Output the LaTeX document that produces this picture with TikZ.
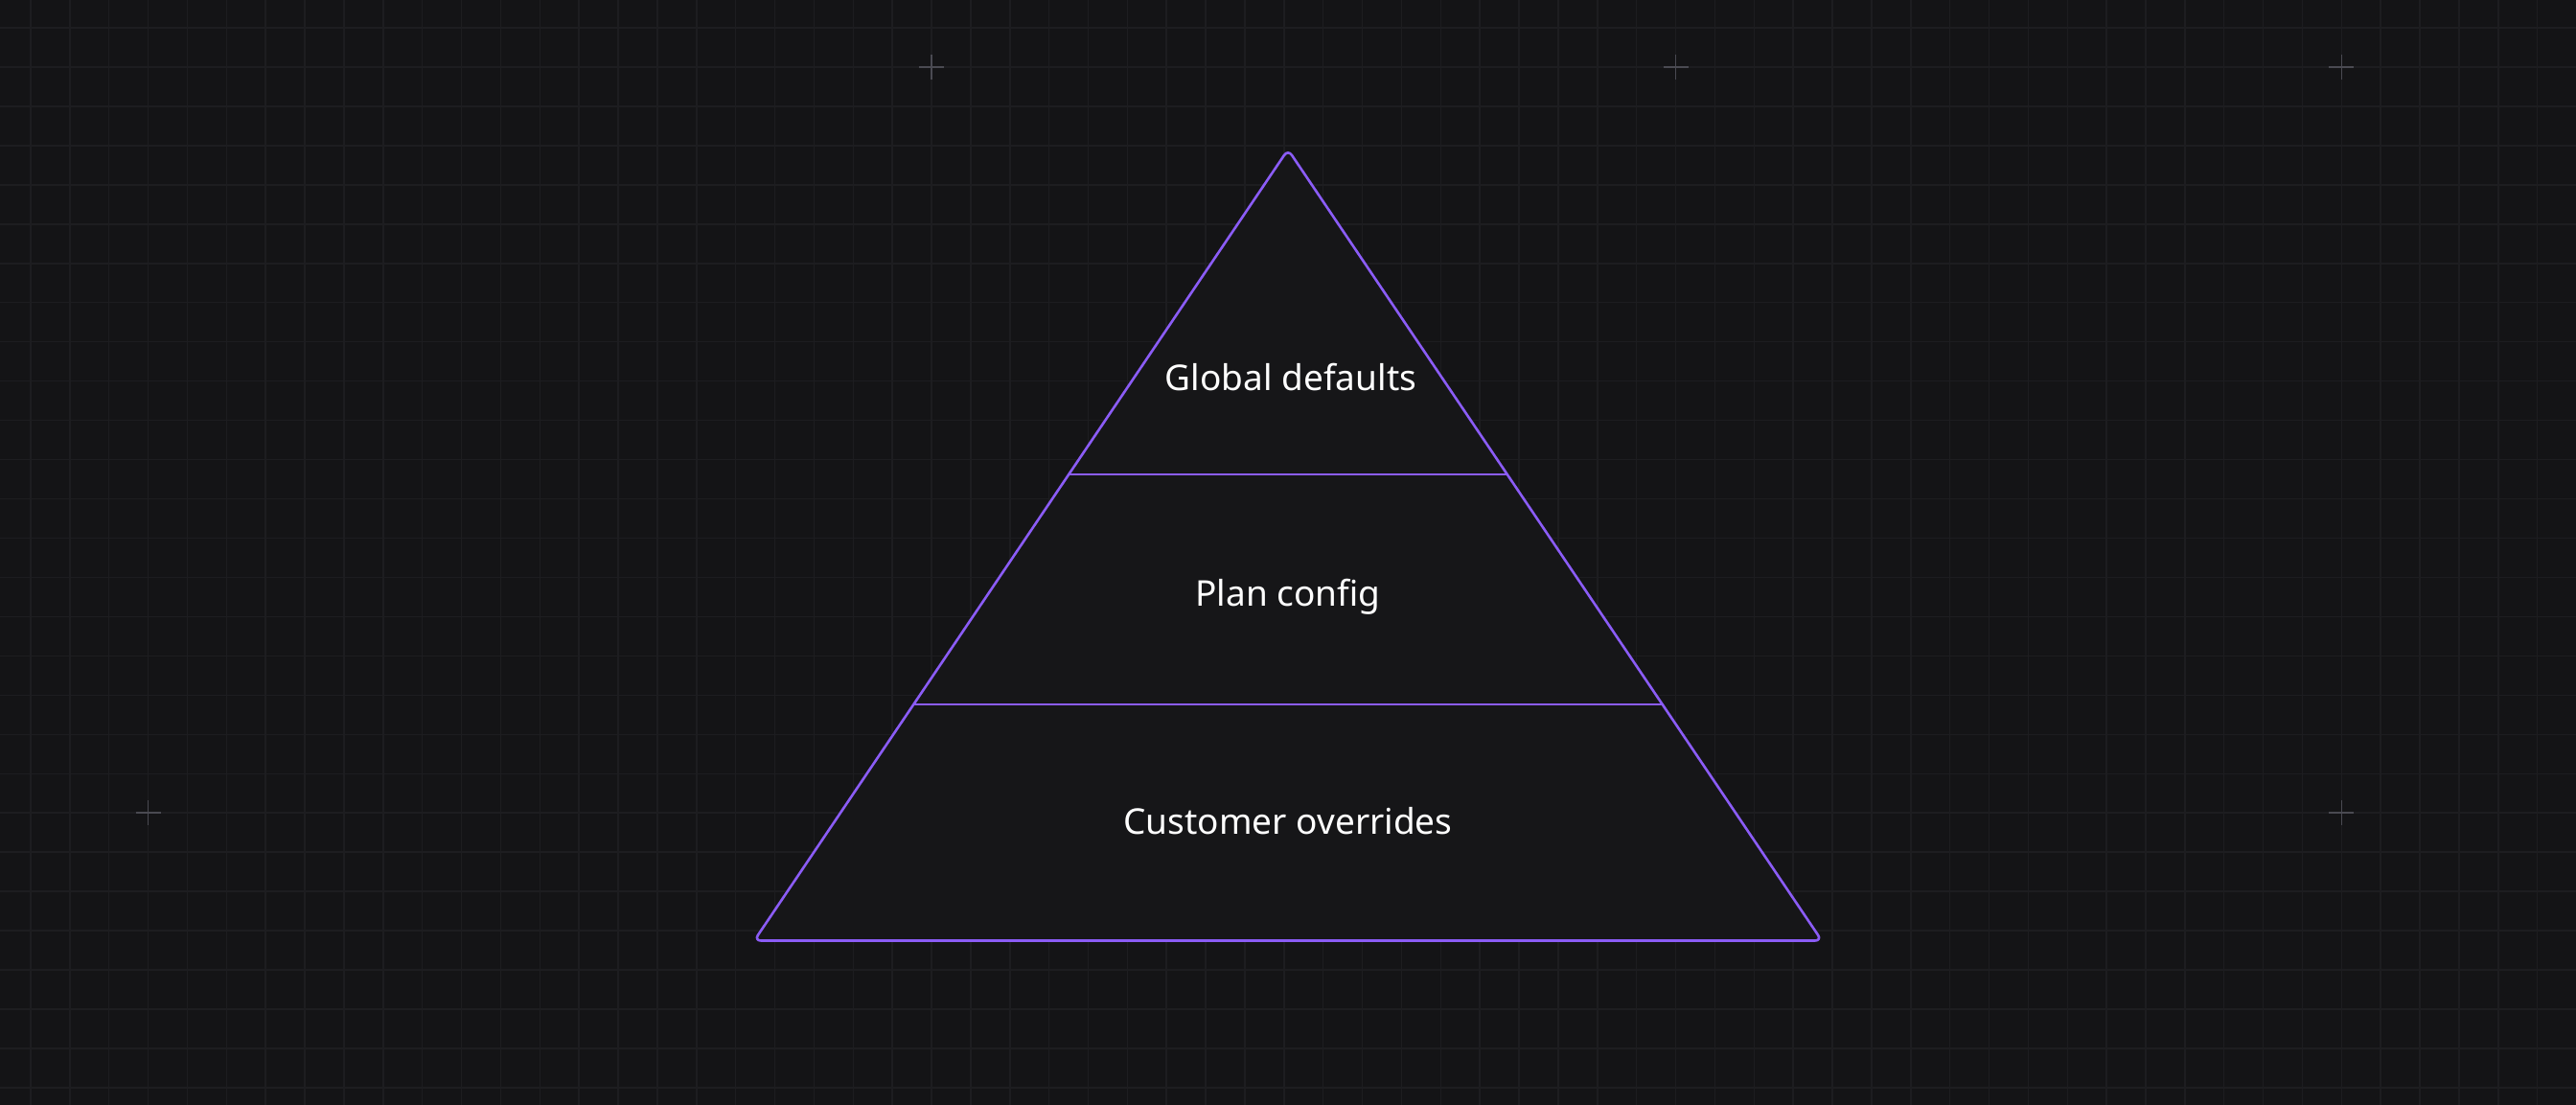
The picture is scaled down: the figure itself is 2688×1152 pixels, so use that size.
\documentclass[tikz,border=0pt]{standalone}
\usepackage{fontspec}
\setmainfont{Noto Sans}
\usetikzlibrary{calc}
\definecolor{bg}{HTML}{141416}
\definecolor{gridc}{HTML}{1D1D20}
\definecolor{plusc}{HTML}{4A4A52}
\definecolor{violet}{HTML}{8B5CF6}
\definecolor{tfill}{HTML}{161618}
\tikzset{
  gridline/.style={draw=gridc, line width=1.5pt},
  plusmark/.style={draw=plusc, line width=1.6pt},
  tri/.style={draw=violet, fill=tfill, line width=2.6pt, rounded corners=7pt, line join=round},
  divider/.style={draw=violet, line width=2.6pt},
  label/.style={text=white, font=\fontsize{37}{44}\selectfont, inner sep=0pt, anchor=base},
}
\begin{document}
\begin{tikzpicture}[x=1pt,y=-1pt]
\useasboundingbox (0,0) rectangle (2688,1152);
\fill[bg] (-5,-5) rectangle (2693,1157);
% grid
\foreach \k in {0,...,65} {
  \draw[gridline] ({32+\k*40.87},-5) -- ({32+\k*40.87},1157);
}
\foreach \k in {0,...,27} {
  \draw[gridline] (-5,{29+\k*40.96}) -- (2693,{29+\k*40.96});
}
% plus marks
\foreach \kx/\ky in {23/1, 42/1, 59/1, 3/20, 59/20} {
  \coordinate (p) at ({32+\kx*40.87},{29+\ky*40.96});
  \draw[plusmark] ([xshift=-13pt]p) -- ([xshift=13pt]p);
  \draw[plusmark] ([yshift=-13pt]p) -- ([yshift=13pt]p);
}
% pyramid
\coordinate (apex) at (1344,156);
\coordinate (bl) at (787,981.5);
\coordinate (br) at (1901,981.5);
\path[tri] (apex) -- (br) -- (bl) -- cycle;
\coordinate (d1l) at ($(apex)!{(495-156)/825.5}!(bl)$);
\coordinate (d1r) at ($(apex)!{(495-156)/825.5}!(br)$);
\coordinate (d2l) at ($(apex)!{(735-156)/825.5}!(bl)$);
\coordinate (d2r) at ($(apex)!{(735-156)/825.5}!(br)$);
\draw[divider] (d1l) -- (d1r);
\draw[divider] (d2l) -- (d2r);
\node[label] (global) at (1347,407) {Global defaults};
\node[label] (plan) at (1344,632) {Plan config};
\node[label] (cust) at (1344,870) {Customer overrides};
\end{tikzpicture}
\end{document}
